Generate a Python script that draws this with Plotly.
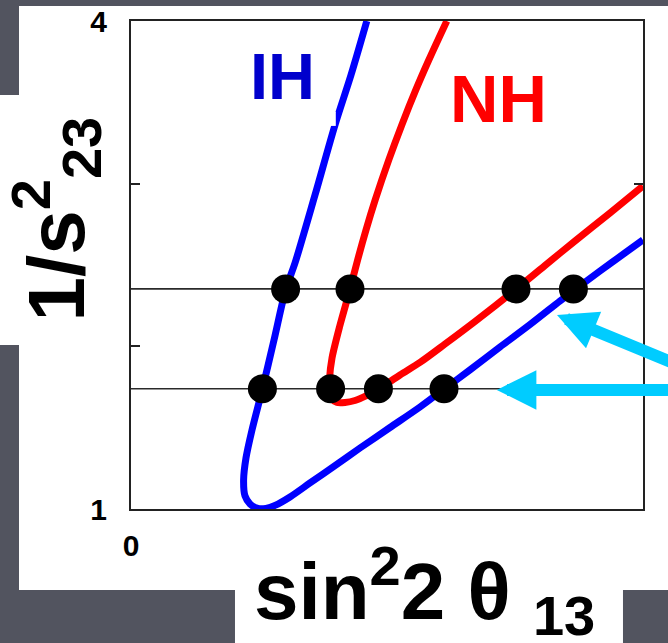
import plotly.graph_objects as go

# ---------------- data ----------------
x_range = [0, 0.256]
y_range = [1, 4]

ih_x = [0.1179, 0.110, 0.102, 0.092, 0.082, 0.0774, 0.0715, 0.0657, 0.0605, 0.0575,
        0.0563, 0.057, 0.0595, 0.0635, 0.0675, 0.072, 0.0795, 0.0895, 0.102, 0.1145,
        0.1295, 0.1445, 0.1565, 0.1695, 0.1845, 0.1995, 0.2145, 0.221, 0.2345, 0.247, 0.256]
ih_y = [4.000, 3.668, 3.361, 2.930, 2.512, 2.351, 2.039, 1.738, 1.486, 1.314,
        1.178, 1.080, 1.031, 1.003, 1.004, 1.022, 1.074, 1.160, 1.267, 1.375,
        1.501, 1.627, 1.737, 1.855, 1.996, 2.134, 2.279, 2.340, 2.463, 2.574, 2.654]

nh_x = [0.1579, 0.1489, 0.1424, 0.1354, 0.1289, 0.1221, 0.1175, 0.1129, 0.1095, 0.1043,
        0.1005, 0.0993, 0.0995, 0.1005, 0.103, 0.107, 0.112, 0.1175, 0.1237, 0.1345,
        0.1445, 0.157, 0.172, 0.1925, 0.207, 0.222, 0.2395, 0.256]
nh_y = [4.000, 3.760, 3.576, 3.361, 3.146, 2.900, 2.715, 2.512, 2.351, 2.121,
        1.928, 1.805, 1.719, 1.676, 1.655, 1.655, 1.667, 1.695, 1.736, 1.824,
        1.901, 2.014, 2.153, 2.351, 2.497, 2.648, 2.820, 2.986]

level_y = [2.353, 1.739]
dots_upper_x = [0.0773, 0.1095, 0.1925, 0.2212]
dots_lower_x = [0.0657, 0.0998, 0.1237, 0.1565]

arrow_tip_x = [0.2130, 0.1829]
arrow_tip_y = [2.193, 1.732]
arrow_tail_x = [0.2845, 0.2845]
arrow_tail_y = [1.830, 1.732]

y_tickvals = [1, 2, 3, 4]
y_ticktext = ["1", "", "", "4"]
x_tickvals = [0]
x_ticktext = ["0"]

# ---------------- styling ----------------
SLIDE = "#52545f"
FONT = "Liberation Sans"
BLUE = "#0000ff"
RED = "#ff0000"
CYAN = "#00ccff"

fig = go.Figure()

for yv in level_y:
    fig.add_trace(go.Scatter(x=x_range, y=[yv, yv], mode="lines",
                             line=dict(color="#2a2a2a", width=1.6),
                             hoverinfo="skip", showlegend=False))

fig.add_trace(go.Scatter(x=ih_x, y=ih_y, mode="lines",
                         line=dict(color=BLUE, width=7, shape="spline", smoothing=0.8),
                         showlegend=False))
fig.add_trace(go.Scatter(x=nh_x, y=nh_y, mode="lines",
                         line=dict(color=RED, width=7, shape="spline", smoothing=0.8),
                         showlegend=False))

fig.add_trace(go.Scatter(x=dots_upper_x, y=[level_y[0]] * len(dots_upper_x), mode="markers",
                         marker=dict(color="black", size=29), showlegend=False))
fig.add_trace(go.Scatter(x=dots_lower_x, y=[level_y[1]] * len(dots_lower_x), mode="markers",
                         marker=dict(color="black", size=29), showlegend=False))

# plot area in pixels: x 131..643, y 21..509
shapes = [
    dict(type="rect", xref="paper", yref="paper", x0=-0.21875, x1=1.1, y0=-0.166, y1=1.0307,
         fillcolor="white", line=dict(width=0), layer="below"),
    dict(type="rect", xref="paper", yref="paper", x0=-0.3, x1=-0.2, y0=0.3361, y1=0.8484,
         fillcolor="white", line=dict(width=0), layer="below"),
    dict(type="rect", xref="paper", yref="paper", x0=0.2031, x1=0.9609, y0=-0.32, y1=-0.15,
         fillcolor="white", line=dict(width=0), layer="below"),
    dict(type="rect", xref="paper", yref="paper", x0=0.3789, x1=0.400, y0=0.785, y1=0.814,
         fillcolor="white", line=dict(width=0), layer="above"),
]

annotations = [
    dict(text="1/s<sup>2</sup><sub>23</sub>", xref="paper", yref="paper",
         x=-0.1465, y=0.5953, xanchor="center", yanchor="middle", textangle=-90,
         showarrow=False, font=dict(family=FONT, size=80, color="black", weight="bold")),
    dict(text="sin<sup>2</sup>2 θ <sub>13</sub>", xref="paper", yref="paper",
         x=0.574, y=-0.1675, xanchor="center", yanchor="middle",
         showarrow=False, font=dict(family=FONT, size=80, color="black", weight="bold")),
    dict(text="IH", xref="paper", yref="paper", x=0.2959, y=0.8863,
         xanchor="center", yanchor="middle", showarrow=False,
         font=dict(family=FONT, size=65, color="#0000cc", weight="bold")),
    dict(text="NH", xref="paper", yref="paper", x=0.7168, y=0.8402,
         xanchor="center", yanchor="middle", showarrow=False,
         font=dict(family=FONT, size=67, color=RED, weight="bold")),
]
for tx, ty, sx, sy in zip(arrow_tip_x, arrow_tip_y, arrow_tail_x, arrow_tail_y):
    annotations.append(dict(text="", x=tx, y=ty, xref="x", yref="y",
                            ax=sx, ay=sy, axref="x", ayref="y",
                            showarrow=True, arrowhead=2, arrowsize=0.66,
                            arrowwidth=12, arrowcolor=CYAN, standoff=0))

fig.update_layout(
    width=668, height=643, autosize=False,
    margin=dict(l=131, r=25, t=21, b=134, pad=0),
    paper_bgcolor=SLIDE, plot_bgcolor="white",
    shapes=shapes, annotations=annotations,
    xaxis=dict(range=x_range, showgrid=False, zeroline=False, showline=True,
               linecolor="#222", linewidth=2, mirror=True, ticks="",
               tickvals=x_tickvals, ticktext=x_ticktext, ticklabelstandoff=9,
               tickfont=dict(family=FONT, size=30, color="black", weight="bold"),
               automargin=False, fixedrange=True),
    yaxis=dict(range=y_range, showgrid=False, zeroline=False, showline=True,
               linecolor="#222", linewidth=2, mirror="ticks", ticks="inside",
               ticklen=9, tickwidth=1.5, tickcolor="#222",
               tickvals=y_tickvals, ticktext=y_ticktext, ticklabelstandoff=16,
               tickfont=dict(family=FONT, size=30, color="black", weight="bold"),
               automargin=False, fixedrange=True),
)

fig.write_html("out.html")
